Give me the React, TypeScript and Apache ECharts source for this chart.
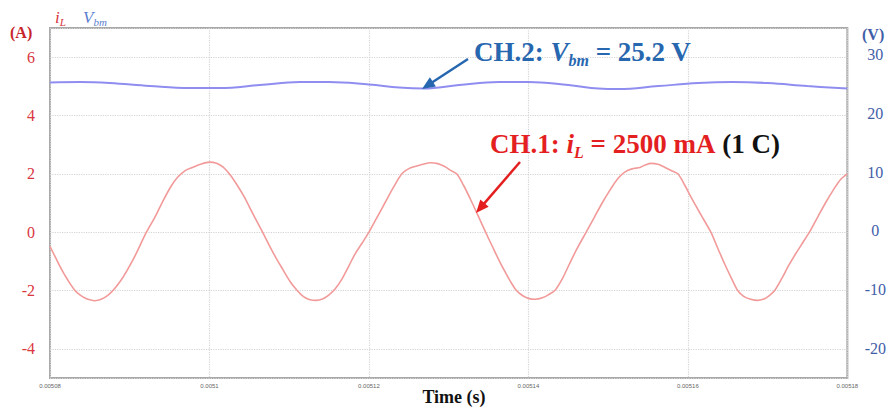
import React, { useEffect, useRef } from "react";
import * as echarts from "echarts";

// Inductor current iL (A) vs time (µs)
const currentTimeUs = [
  5080.0, 5080.75, 5081.5, 5082.25, 5083.13, 5083.75, 5084.38, 5085.0, 5085.63,
  5087.25, 5088.88, 5090.5, 5092.09,
  5093.13, 5094.13, 5095.13, 5096.0, 5097.0, 5097.88, 5098.88, 5100.0,
  5100.88, 5101.75, 5102.63, 5103.5, 5104.38, 5105.5, 5106.66,
  5107.5, 5108.38, 5109.25, 5110.13, 5111.0, 5111.75, 5112.5, 5113.38,
  5114.25, 5115.0, 5115.75, 5116.63, 5117.5, 5118.25, 5119.13, 5120.0,
  5121.0, 5122.0, 5123.0, 5124.13, 5125.0, 5125.88, 5126.75, 5127.75,
  5128.63, 5129.5, 5130.25, 5131.0, 5131.88, 5132.75, 5133.63, 5134.63,
  5135.5, 5136.38, 5137.25, 5137.88, 5138.5, 5139.25, 5140.0, 5140.88,
  5141.75, 5142.5, 5143.38, 5144.25, 5145.13, 5146.13, 5147.25,
  5148.25, 5149.25, 5150.25, 5151.25, 5152.13, 5153.0, 5154.0, 5154.63, 5155.38,
  5156.25, 5157.13, 5158.0, 5158.75, 5159.63, 5160.5, 5161.63, 5162.88,
  5163.75, 5164.63, 5165.5, 5166.25, 5167.0, 5167.88, 5168.75,
  5169.63, 5170.25, 5170.88, 5171.75, 5172.63, 5173.5, 5174.38, 5175.25,
  5176.25, 5177.25, 5178.25, 5179.13, 5180.0,
];
const currentA = [
  -0.49, -0.9, -1.3, -1.65, -2.0, -2.15, -2.26, -2.32, -2.35,
  -2.17, -1.66, -0.9, 0.0,
  0.5, 1.05, 1.55, 1.88, 2.12, 2.22, 2.33, 2.4,
  2.36, 2.22, 1.95, 1.6, 1.2, 0.6, 0.0,
  -0.45, -0.9, -1.3, -1.7, -2.0, -2.2, -2.31, -2.34,
  -2.28, -2.15, -1.95, -1.6, -1.15, -0.75, -0.38, 0.0,
  0.5, 1.0, 1.5, 2.0, 2.18, 2.26, 2.33, 2.38,
  2.35, 2.25, 2.12, 2.0, 1.6, 1.12, 0.6, 0.0,
  -0.5, -1.0, -1.45, -1.75, -2.0, -2.17, -2.27, -2.3,
  -2.25, -2.15, -1.98, -1.6, -1.1, -0.55, 0.0,
  0.5, 1.0, 1.45, 1.85, 2.07, 2.17, 2.22, 2.3, 2.36,
  2.33, 2.22, 2.1, 2.0, 1.6, 1.15, 0.6, 0.0,
  -0.55, -1.1, -1.6, -2.0, -2.2, -2.3, -2.34,
  -2.28, -2.17, -2.0, -1.6, -1.15, -0.75, -0.37, 0.0,
  0.5, 1.0, 1.45, 1.8, 2.0,
];

// Battery voltage Vbm (V) vs time (µs)
const voltageTimeUs = [
  5080.0, 5083.8, 5087.5, 5092.5, 5097.5, 5101.3, 5106.3, 5111.3, 5115.0, 5120.0,
  5123.8, 5126.9, 5131.3, 5136.3, 5140.0, 5145.0, 5148.8, 5151.3, 5156.3, 5161.3,
  5165.6, 5170.0, 5175.0, 5180.0,
];
const voltageV = [
  25.23, 25.31, 25.14, 24.63, 24.29, 24.29, 24.8, 25.31, 25.31, 24.89,
  24.38, 24.21, 24.8, 25.31, 25.31, 24.8, 24.21, 24.12, 24.63, 25.14,
  25.31, 25.14, 24.63, 24.21,
];

const xMin = 0.00508;
const xMax = 0.00518;
const xStep = 0.00002;

const SERIF = '"Liberation Serif", "Times New Roman", serif';
const RED = "#e41f1f";
const BLUE = "#2767b0";

function arrow(x1: number, y1: number, x2: number, y2: number, color: string) {
  const dx = x2 - x1;
  const dy = y2 - y1;
  const len = Math.sqrt(dx * dx + dy * dy);
  const ux = dx / len;
  const uy = dy / len;
  const head = 13;
  const half = 5.5;
  const bx = x2 - head * ux;
  const by = y2 - head * uy;
  const nx = -uy;
  const ny = ux;
  return [
    {
      type: "line",
      shape: { x1, y1, x2: bx + ux * 2, y2: by + uy * 2 },
      style: { stroke: color, lineWidth: 2.5 },
      z: 100,
    },
    {
      type: "polygon",
      shape: {
        points: [
          [x2, y2],
          [bx + half * nx, by + half * ny],
          [bx - half * nx, by - half * ny],
        ],
      },
      style: { fill: color },
      z: 100,
    },
  ];
}

export default function App() {
  const ref = useRef<HTMLDivElement>(null);

  useEffect(() => {
    const chart = echarts.init(ref.current!, null, { renderer: "svg" });
    const currentData = currentTimeUs.map((t, i) => [t * 1e-6, currentA[i]]);
    const voltageData = voltageTimeUs.map((t, i) => [t * 1e-6, voltageV[i]]);

    const mainRich = (color: string, size: number) => ({
      a: { fontFamily: SERIF, fontWeight: "bold", fontSize: size, fill: color, lineHeight: 32, verticalAlign: "middle" },
      i: { fontFamily: SERIF, fontWeight: "bold", fontStyle: "italic", fontSize: size, fill: color, lineHeight: 32, verticalAlign: "middle" },
      s: { fontFamily: SERIF, fontWeight: "bold", fontStyle: "italic", fontSize: 16, fill: color, lineHeight: 16, verticalAlign: "bottom" },
      k: { fontFamily: SERIF, fontWeight: "bold", fontSize: size, fill: "#111", lineHeight: 32, verticalAlign: "middle" },
    });

    const option: any = {
      animation: false,
      backgroundColor: "#fff",
      grid: {
        left: 50,
        right: 40,
        top: 28,
        bottom: 30,
        show: true,
        borderColor: "#a8a8a8",
        borderWidth: 2,
        backgroundColor: "transparent",
      },
      xAxis: {
        type: "value",
        min: xMin,
        max: xMax,
        interval: xStep,
        axisLine: { show: false },
        axisTick: { show: false },
        axisLabel: {
          fontSize: 6,
          color: "#666",
          margin: 5,
          fontFamily: "Arial, sans-serif",
          formatter: (v: number) => String(+v.toFixed(5)),
        },
        splitLine: { show: true, lineStyle: { color: "#d4d4d4", type: "dotted", width: 1.2 } },
      },
      yAxis: [
        {
          type: "value",
          min: -5,
          max: 7,
          axisLine: { show: false },
          axisTick: { show: false },
          axisLabel: {
            showMinLabel: false,
            showMaxLabel: false,
            color: "#d9363e",
            fontFamily: SERIF,
            fontSize: 16,
            margin: 15,
          },
          splitLine: { show: true, lineStyle: { color: "#d4d4d4", type: "dotted", width: 1.2 } },
        },
        {
          type: "value",
          min: -25,
          max: 34.5,
          axisLine: { show: false },
          axisTick: { show: false },
          axisLabel: {
            showMinLabel: false,
            showMaxLabel: false,
            color: "#3f5ea8",
            fontFamily: SERIF,
            fontSize: 16,
            margin: 28,
            align: "center",
          },
          splitLine: { show: false },
        },
      ],
      series: [
        {
          name: "iL",
          type: "line",
          yAxisIndex: 0,
          data: currentData,
          smooth: 0.3,
          showSymbol: false,
          lineStyle: { color: "#f29a9a", width: 1.6 },
          z: 3,
        },
        {
          name: "Vbm",
          type: "line",
          yAxisIndex: 1,
          data: voltageData,
          smooth: 0.4,
          showSymbol: false,
          lineStyle: { color: "#8f8ef0", width: 2 },
          z: 4,
        },
      ],
      graphic: [
        {
          type: "text",
          x: 10,
          y: 32,
          style: { text: "(A)", fontFamily: SERIF, fontWeight: "bold", fontSize: 16, fill: "#c8242b", textVerticalAlign: "middle" },
        },
        {
          type: "text",
          x: 55,
          y: 17,
          style: {
            text: "{i|i}{s|L}",
            textVerticalAlign: "middle",
            rich: {
              i: { fontFamily: SERIF, fontStyle: "italic", fontSize: 17, fill: "#d9363e", lineHeight: 20, verticalAlign: "middle" },
              s: { fontFamily: SERIF, fontStyle: "italic", fontSize: 11, fill: "#d9363e", lineHeight: 11, verticalAlign: "bottom" },
            },
          },
        },
        {
          type: "text",
          x: 83,
          y: 17,
          style: {
            text: "{i|V}{s|bm}",
            textVerticalAlign: "middle",
            rich: {
              i: { fontFamily: SERIF, fontStyle: "italic", fontSize: 17, fill: "#5b7fd0", lineHeight: 20, verticalAlign: "middle" },
              s: { fontFamily: SERIF, fontStyle: "italic", fontSize: 11, fill: "#5b7fd0", lineHeight: 11, verticalAlign: "bottom" },
            },
          },
        },
        {
          type: "text",
          x: 862,
          y: 34,
          style: { text: "(V)", fontFamily: SERIF, fontWeight: "bold", fontSize: 16, fill: "#3f5ea8", textVerticalAlign: "middle" },
        },
        {
          type: "text",
          x: 474,
          y: 52,
          z: 100,
          style: {
            text: "{a|CH.2: }{i|V}{s|bm}{a| = 25.2 V}",
            textVerticalAlign: "middle",
            rich: mainRich(BLUE, 27),
          },
        },
        {
          type: "text",
          x: 490,
          y: 144,
          z: 100,
          style: {
            text: "{a|CH.1: }{i|i}{s|L}{a| = 2500 mA }{k|(1 C)}",
            textVerticalAlign: "middle",
            rich: mainRich(RED, 27),
          },
        },
        ...arrow(468, 59, 422, 89, BLUE),
        ...arrow(520, 162, 476, 213, RED),
        {
          type: "text",
          x: 454,
          y: 397,
          style: {
            text: "Time (s)",
            fontFamily: SERIF,
            fontWeight: "bold",
            fontSize: 18,
            fill: "#111",
            textAlign: "center",
            textVerticalAlign: "middle",
          },
        },
      ],
    };

    chart.setOption(option);
    return () => chart.dispose();
  }, []);

  return <div ref={ref} style={{ position: "fixed", left: 0, top: 0, width: 889, height: 408 }} />;
}
